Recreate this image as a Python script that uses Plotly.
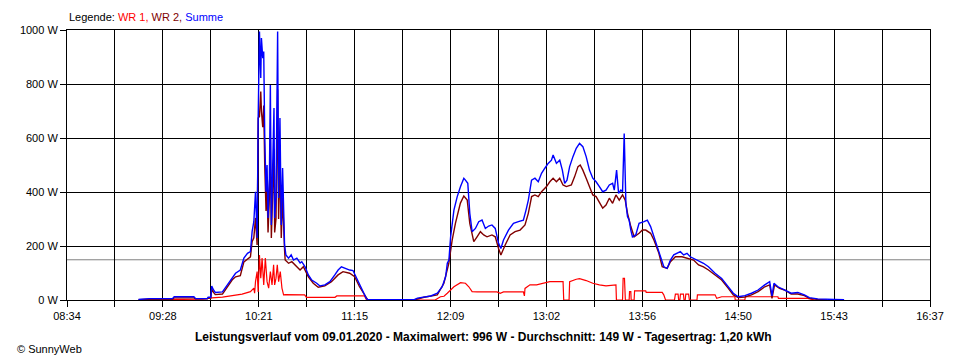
import pandas as pd
import plotly.graph_objects as go

DATE = "2020-01-09"
X_START, X_END = "08:34", "16:37"
x_tick_labels = ["08:34", "09:28", "10:21", "11:15", "12:09",
                 "13:02", "13:56", "14:50", "15:43", "16:37"]
y_tick_values = [0, 200, 400, 600, 800, 1000]
avg_w = 149

# ---- Summe (blue) ----
t_sum = ["09:14:00", "09:20:00", "09:33:00", "09:34:00", "09:45:00", "09:46:00", "09:52:30", "09:53:00",
         "09:54:30", "09:55:00", "09:56:00", "09:57:00", "10:01:00", "10:03:00", "10:06:30", "10:08:20",
         "10:11:00", "10:13:00", "10:15:00", "10:16:40", "10:17:36", "10:18:34", "10:19:30", "10:20:25",
         "10:21:00", "10:21:43", "10:22:27", "10:22:49", "10:23:33", "10:24:06", "10:24:40", "10:25:24",
         "10:25:58", "10:26:31", "10:27:16", "10:27:49", "10:28:22", "10:29:07", "10:29:51", "10:30:13",
         "10:30:58", "10:31:53", "10:32:26", "10:33:11", "10:33:55", "10:34:40", "10:35:13", "10:35:46",
         "10:36:30", "10:38:00", "10:39:28", "10:40:46", "10:42:37", "10:44:28", "10:45:24", "10:47:15",
         "10:49:05", "10:51:00", "10:53:45", "10:55:35", "10:58:20", "11:01:08", "11:03:54", "11:05:45",
         "11:07:35", "11:09:28", "11:12:14", "11:14:04", "11:16:00", "11:17:47", "11:19:38", "11:21:30",
         "11:22:25", "11:48:20", "11:50:10", "11:53:52", "11:57:36", "12:01:18", "12:04:00", "12:05:54",
         "12:06:51", "12:07:45", "12:08:42", "12:10:33", "12:12:24", "12:14:15", "12:16:06", "12:17:00",
         "12:18:19", "12:19:26", "12:20:44", "12:22:35", "12:24:26", "12:26:17", "12:28:08", "12:30:00",
         "12:31:50", "12:33:41", "12:35:32", "12:36:50", "12:38:18", "12:41:05", "12:43:52", "12:46:38",
         "12:49:25", "12:50:54", "12:52:12", "12:54:00", "12:55:54", "12:57:45", "12:59:35", "13:01:26",
         "13:03:17", "13:05:08", "13:06:04", "13:07:55", "13:09:46", "13:11:14", "13:12:32", "13:13:50",
         "13:15:19", "13:17:10", "13:19:01", "13:20:52", "13:22:43", "13:24:34", "13:26:25", "13:28:16",
         "13:30:07", "13:31:58", "13:33:49", "13:35:40", "13:37:31", "13:39:22", "13:40:18", "13:41:36",
         "13:42:43", "13:44:00", "13:44:56", "13:45:51", "13:46:25", "13:46:48", "13:47:42", "13:48:37",
         "13:49:33", "13:50:28", "13:52:19", "13:54:10", "13:56:57", "13:58:48", "14:00:38", "14:02:29",
         "14:04:20", "14:06:11", "14:08:02", "14:09:53", "14:11:44", "14:13:35", "14:15:26", "14:17:17",
         "14:19:08", "14:21:00", "14:22:50", "14:24:41", "14:27:28", "14:30:14", "14:33:01", "14:36:43",
         "14:40:25", "14:44:08", "14:46:54", "14:49:40", "14:53:22", "14:57:05", "15:00:47", "15:04:30",
         "15:07:16", "15:08:34", "15:09:40", "15:11:53", "15:15:36", "15:19:18", "15:23:00", "15:26:42",
         "15:29:28", "15:34:07", "15:43:24", "15:48:56"]
summe = [2, 5, 5, 12, 12, 5, 5, 10,
         10, 52, 37, 28, 30, 49, 86, 99,
         111, 155, 173, 179, 253, 290, 401, 230,
         674, 994, 822, 970, 896, 920, 611, 401,
         500, 304, 452, 796, 278, 549, 711, 304,
         378, 994, 378, 674, 278, 489, 278, 204,
         167, 155, 167, 148, 155, 137, 142, 123,
         93, 74, 62, 52, 56, 68, 93, 111,
         123, 117, 111, 109, 81, 56, 31, 6,
         1, 1, 7, 12, 15, 25, 49, 86,
         136, 148, 234, 333, 383, 420, 451, 444,
         432, 321, 253, 265, 290, 296, 265, 274,
         278, 265, 210, 191, 222, 259, 284, 290,
         296, 333, 370, 444, 451, 438, 469, 488,
         506, 518, 537, 506, 518, 481, 432, 444,
         494, 531, 562, 580, 568, 531, 481, 451,
         438, 420, 401, 407, 426, 432, 407, 481,
         395, 407, 401, 617, 420, 358, 309, 296,
         259, 234, 241, 284, 290, 296, 272, 234,
         198, 160, 123, 117, 148, 167, 173, 179,
         167, 173, 160, 154, 142, 136, 123, 99,
         80, 49, 25, 12, 16, 25, 37, 56,
         68, 15, 62, 49, 37, 25, 28, 19,
         9, 4, 2, 1]

# ---- WR 2 (dark red) ----
t_wr2 = ["09:14:00", "09:20:00", "09:33:00", "09:34:00", "09:45:00", "09:46:00", "09:52:30", "09:53:00",
         "09:54:30", "09:55:00", "09:56:00", "09:57:00", "10:01:00", "10:03:00", "10:06:30", "10:08:20",
         "10:11:00", "10:13:00", "10:15:00", "10:16:40", "10:17:36", "10:18:34", "10:19:30", "10:20:25",
         "10:21:00", "10:21:43", "10:22:27", "10:22:49", "10:23:33", "10:24:06", "10:24:40", "10:25:24",
         "10:25:58", "10:26:31", "10:27:16", "10:27:49", "10:28:22", "10:29:07", "10:29:51", "10:30:13",
         "10:30:58", "10:31:53", "10:32:26", "10:33:11", "10:33:55", "10:34:40", "10:35:13", "10:35:46",
         "10:36:06", "10:38:00", "10:39:50", "10:42:36", "10:44:26", "10:46:17", "10:49:05", "10:51:50",
         "10:54:36", "10:58:18", "11:02:00", "11:05:43", "11:08:29", "11:12:12", "11:15:00", "11:17:43",
         "11:20:30", "11:22:24", "11:48:18", "11:53:50", "12:01:14", "12:04:56", "12:07:42", "12:09:34",
         "12:11:25", "12:14:11", "12:16:06", "12:18:00", "12:19:26", "12:21:40", "12:23:30", "12:25:22",
         "12:27:13", "12:29:04", "12:31:50", "12:33:41", "12:35:32", "12:36:50", "12:39:14", "12:42:00",
         "12:44:47", "12:47:34", "12:50:20", "12:52:11", "12:54:02", "12:55:53", "12:57:44", "12:59:35",
         "13:02:22", "13:04:13", "13:06:04", "13:07:55", "13:09:46", "13:11:37", "13:13:28", "13:16:16",
         "13:18:07", "13:20:00", "13:21:14", "13:22:43", "13:24:34", "13:26:25", "13:28:16", "13:30:07",
         "13:31:58", "13:33:49", "13:35:40", "13:37:31", "13:39:22", "13:41:14", "13:43:05", "13:44:56",
         "13:46:25", "13:47:43", "13:49:34", "13:51:25", "13:54:11", "13:56:02", "13:57:54", "14:00:38",
         "14:02:29", "14:05:16", "14:07:07", "14:09:53", "14:11:44", "14:14:30", "14:18:12", "14:21:54",
         "14:24:41", "14:27:28", "14:30:14", "14:33:01", "14:36:43", "14:40:25", "14:44:08", "14:46:54",
         "14:49:40", "14:53:22", "14:57:05", "15:00:47", "15:04:30", "15:07:16", "15:08:34", "15:10:00",
         "15:12:48", "15:15:36", "15:19:18", "15:23:00", "15:26:42", "15:29:28", "15:34:07", "15:39:36"]
wr2 = [1, 3, 3, 8, 8, 4, 4, 7,
       7, 40, 28, 20, 22, 40, 75, 86,
       90, 141, 150, 160, 216, 230, 304, 204,
       674, 680, 772, 700, 640, 720, 500, 330,
       420, 250, 380, 600, 230, 440, 560, 250,
       300, 780, 300, 520, 230, 380, 230, 185,
       148, 136, 142, 123, 111, 123, 86, 62,
       47, 52, 68, 93, 105, 99, 86, 49,
       19, 0, 0, 10, 19, 62, 136, 222,
       285, 359, 385, 370, 284, 216, 234, 253,
       241, 234, 241, 234, 191, 167, 204, 241,
       253, 259, 278, 321, 383, 389, 383, 401,
       420, 438, 451, 438, 451, 426, 420, 426,
       457, 494, 500, 481, 451, 420, 389, 383,
       364, 340, 352, 377, 358, 389, 370, 389,
       370, 321, 272, 234, 247, 259, 259, 247,
       222, 173, 123, 117, 142, 160, 160, 154,
       148, 130, 123, 111, 93, 74, 43, 19,
       9, 11, 19, 31, 49, 56, 6, 56,
       43, 37, 22, 22, 16, 6, 2, 0]

# ---- WR 1 (red) ----
t_wr1 = ["09:31:00", "09:35:00", "09:50:00", "09:55:00", "10:01:00", "10:06:00", "10:12:00", "10:16:40",
         "10:18:34", "10:19:00", "10:19:30", "10:20:25", "10:21:00", "10:21:43", "10:22:27", "10:23:11",
         "10:24:06", "10:25:00", "10:25:58", "10:26:52", "10:27:49", "10:28:45", "10:29:38", "10:30:13",
         "10:30:58", "10:31:42", "10:32:26", "10:33:22", "10:34:18", "10:35:13", "10:36:06", "10:47:00",
         "10:48:00", "11:04:00", "11:05:00", "11:20:30", "11:21:30", "11:23:00", "12:00:00", "12:03:00",
         "12:05:00", "12:06:50", "12:07:46", "12:10:33", "12:14:15", "12:17:00", "12:18:53", "12:20:44",
         "12:23:30", "12:34:37", "12:36:28", "12:38:18", "12:49:25", "12:50:00", "12:50:20", "12:53:07",
         "12:56:49", "13:00:32", "13:04:14", "13:11:38", "13:12:00", "13:15:00", "13:15:19", "13:19:01",
         "13:20:52", "13:24:34", "13:28:16", "13:31:58", "13:35:40", "13:41:14", "13:41:30", "13:44:56",
         "13:45:15", "13:46:00", "13:46:30", "13:48:37", "13:48:50", "13:49:33", "13:49:45", "13:51:24",
         "13:51:40", "13:57:54", "13:58:10", "14:07:07", "14:08:00", "14:09:00", "14:14:00", "14:14:30",
         "14:16:00", "14:16:20", "14:17:00", "14:17:20", "14:19:00", "14:19:20", "14:20:00", "14:20:20",
         "14:21:54", "14:22:20", "14:26:35", "14:26:50", "14:36:43", "14:37:38", "14:40:25", "14:47:48",
         "14:48:00", "14:53:22", "14:53:40", "15:11:53", "15:12:10", "15:28:33", "15:32:15"]
wr1 = [0, 2, 3, 8, 11, 15, 22, 31,
       44, 25, 68, 105, 30, 167, 81, 155,
       56, 155, 68, 44, 105, 56, 130, 56,
       81, 130, 68, 105, 44, 19, 20, 19,
       10, 10, 15, 15, 2, 0, 0, 12,
       14, 25, 31, 49, 64, 62, 49, 31,
       30, 30, 25, 30, 30, 15, 43, 56,
       56, 62, 68, 68, 0, 0, 68, 77,
       79, 72, 62, 56, 52, 56, 0, 0,
       80, 80, 0, 0, 31, 31, 0, 0,
       34, 34, 28, 28, 19, 0, 0, 22,
       22, 0, 0, 22, 22, 0, 0, 22,
       22, 0, 0, 19, 19, 6, 12, 12,
       0, 0, 12, 12, 6, 6, 0]


def to_dt(times):
    return [f"{DATE} {t}" for t in times]


FONT = "Liberation Sans, Arial, sans-serif"

# The page body has an 8px margin; the figure is sized and offset to compensate.
FIG_W, FIG_H = 952, 352
M_L, M_R, M_T, M_B = 52, 30, 22, 60
PLOT_W = FIG_W - M_L - M_R
PLOT_H = FIG_H - M_T - M_B

fig = go.Figure()
fig.add_trace(go.Scatter(x=to_dt(t_wr1), y=wr1, mode="lines", name="WR 1",
                         line=dict(color="#FF0000", width=1.2), showlegend=False))
fig.add_trace(go.Scatter(x=to_dt(t_wr2), y=wr2, mode="lines", name="WR 2",
                         line=dict(color="#800000", width=1.4), showlegend=False))
fig.add_trace(go.Scatter(x=to_dt(t_sum), y=summe, mode="lines", name="Summe",
                         line=dict(color="#0000FF", width=1.4), showlegend=False))

x0 = pd.Timestamp(f"{DATE} {X_START}")
x1 = pd.Timestamp(f"{DATE} {X_END}")
n_int = 2 * (len(x_tick_labels) - 1)
tickvals = [x0 + (x1 - x0) * k / n_int for k in range(n_int + 1)]
ticktext = [x_tick_labels[k // 2] if k % 2 == 0 else "" for k in range(n_int + 1)]

fig.add_shape(type="line", xref="paper", x0=0, x1=1, yref="y", y0=avg_w, y1=avg_w,
              line=dict(color="#808080", width=1), layer="between")

fig.update_xaxes(type="date", range=[x0, x1], tickmode="array", tickvals=tickvals, ticktext=ticktext,
                 showgrid=True, gridcolor="black", gridwidth=1, showline=True, linecolor="black",
                 linewidth=1, mirror=True, ticks="outside", ticklen=6, tickcolor="black", tickwidth=1,
                 tickfont=dict(family=FONT, size=11, color="black"), zeroline=False)
fig.update_yaxes(range=[0, 1000], tickmode="array", tickvals=y_tick_values,
                 ticktext=[f"{v} W" for v in y_tick_values],
                 showgrid=True, gridcolor="black", gridwidth=1, showline=True, linecolor="black",
                 linewidth=1, mirror=True, ticks="outside", ticklen=6, tickcolor="black", tickwidth=1,
                 tickfont=dict(family=FONT, size=11, color="black"), zeroline=False)

legend_text = ("Legende: <span style='color:#FF0000'>WR 1,</span> "
               "<span style='color:#800000'>WR 2,</span> "
               "<span style='color:#0000FF'>Summe</span>")
title_text = ("<b>Leistungsverlauf vom 09.01.2020 - Maximalwert: 996 W - "
              "Durchschnitt: 149 W - Tagesertrag: 1,20 kWh</b>")


def px_x(fx):
    return (fx - M_L) / PLOT_W


def px_y(fy):
    return (M_T + PLOT_H - fy) / PLOT_H


fig.add_annotation(text=legend_text, xref="paper", yref="paper", x=0, y=px_y(9),
                   xanchor="left", yanchor="middle", showarrow=False,
                   font=dict(family=FONT, size=11, color="black"))
fig.add_annotation(text=title_text, xref="paper", yref="paper", x=px_x(472), y=px_y(329),
                   xanchor="center", yanchor="middle", showarrow=False,
                   font=dict(family=FONT, size=12, color="black"))
fig.add_annotation(text="© SunnyWeb", xref="paper", yref="paper", x=px_x(0), y=px_y(341),
                   xanchor="left", yanchor="middle", showarrow=False,
                   font=dict(family=FONT, size=11, color="black"))

fig.update_layout(width=FIG_W, height=FIG_H, margin=dict(l=M_L, r=M_R, t=M_T, b=M_B),
                  paper_bgcolor="white", plot_bgcolor="white", showlegend=False,
                  hovermode=False)

fig.write_html("out.html")
